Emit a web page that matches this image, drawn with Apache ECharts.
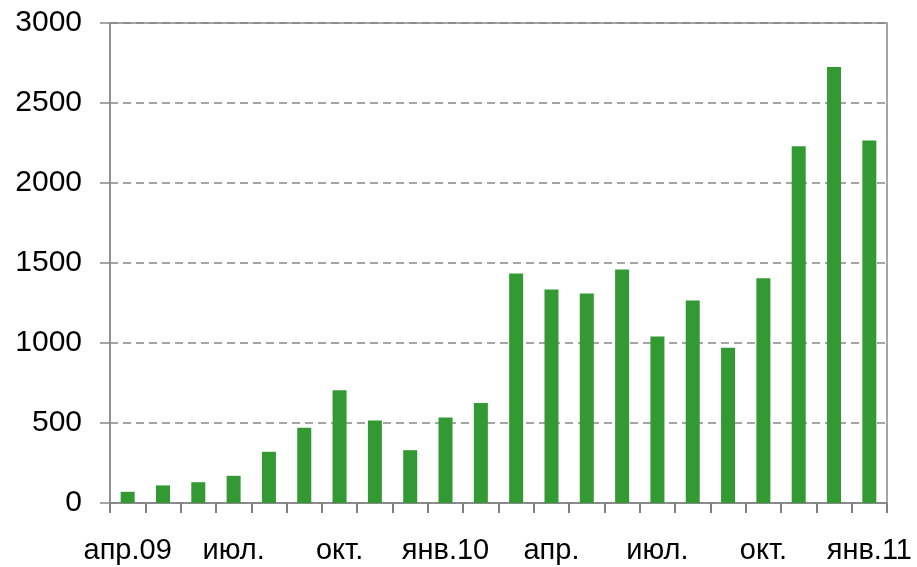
<!DOCTYPE html>
<html>
<head>
<meta charset="utf-8">
<script src="https://cdn.jsdelivr.net/npm/echarts@6/dist/echarts.min.js"></script>
<style>
	html, body { margin: 0; padding: 0; background: #fff; }
	#chart { width: 917px; height: 567px; }
</style>
</head>
<body>
<div id="chart"></div>
<script>
	// месяцы апр.09 - янв.11
	var months = ['апр.09', 'май', 'июн.', 'июл.', 'авг.', 'сен.', 'окт.', 'ноя.', 'дек.',
		'янв.10', 'фев.', 'мар.', 'апр.', 'май', 'июн.', 'июл.', 'авг.', 'сен.',
		'окт.', 'ноя.', 'дек.', 'янв.11'];
	var values = [70, 110, 130, 170, 320, 470, 705, 515, 330,
		535, 625, 1435, 1335, 1310, 1460, 1040, 1265, 970,
		1405, 2230, 2725, 2265];
	var yTicks = [0, 500, 1000, 1500, 2000, 2500, 3000];

	var gray = '#888888';
	var font = 'Liberation Sans, Arial, sans-serif';

	var myChart = echarts.init(document.getElementById('chart'));
	myChart.setOption({
		animation : false,
		grid : {
			left : 110,
			right : 30,
			top : 23,
			bottom : 64,
			outerBoundsMode : 'none',
			containLabel : false,
			show : true,
			borderColor : gray,
			borderWidth : 1.5
		},
		xAxis : {
			type : 'category',
			data : months,
			axisLine : { lineStyle : { color : gray, width : 1.5 } },
			axisTick : { show : true, interval : 0, length : 10, lineStyle : { color : '#808080', width : 2 } },
			axisLabel : {
				interval : 2,
				margin : 33,
				color : '#000',
				fontSize : 29,
				fontFamily : font
			}
		},
		yAxis : {
			type : 'value',
			min : yTicks[0],
			max : yTicks[yTicks.length - 1],
			interval : 500,
			axisLine : { show : true, lineStyle : { color : gray, width : 1.5 } },
			axisTick : { show : true, length : 10, lineStyle : { color : gray, width : 1.5 } },
			axisLabel : {
				margin : 28,
				color : '#000',
				fontSize : 30,
				fontFamily : font,
				formatter : function (v) { return String(v); }
			},
			splitLine : {
				lineStyle : { color : gray, width : 1.5, type : [8, 5] }
			}
		},
		series : [{
			type : 'bar',
			data : values,
			barWidth : 14,
			itemStyle : { color : '#339933' }
		}]
	});
</script>
</body>
</html>
